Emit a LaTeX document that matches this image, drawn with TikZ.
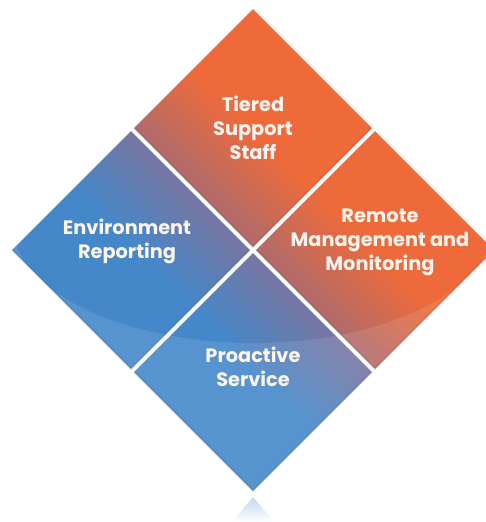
\documentclass[tikz,border=0pt]{standalone}
\usepackage{fontspec}
\newfontfamily\tilefont{Poppins}
\usetikzlibrary{shapes.geometric}

\definecolor{tileorange}{RGB}{238,106,58}
\definecolor{tileblue}{RGB}{68,136,202}
\definecolor{orangemauve}{RGB}{150,108,128}
\definecolor{bluemauve}{RGB}{140,110,145}
\definecolor{mirrorblue}{RGB}{196,214,234}
\definecolor{captiontext}{RGB}{252,244,238}

\tikzset{
  tile/.style={diamond, minimum width=4.76cm, minimum height=4.76cm,
    inner sep=0pt, outer sep=0pt},
  orangetile/.style={tile, bottom color=orangemauve, top color=tileorange,
    middle color=tileorange, shading angle=-45},
  bluetile/.style={tile, bottom color=tileblue, top color=bluemauve,
    middle color=tileblue, shading angle=-45},
  rim/.style={line width=1pt, black, opacity=0.12},
  caption/.style={align=center, text=captiontext,
    font=\tilefont\bfseries\fontsize{11}{13.6}\selectfont}
}

\begin{document}
\begin{tikzpicture}[x=0.02cm,y=-0.02cm]
\useasboundingbox (0,0) rectangle (486,522);

% the four tiles
\node[orangetile] (tiered) at (253,128) {};
\node[bluetile] (environment) at (131,250) {};
\node[orangetile] (remote) at (375,250) {};
\node[bluetile] (proactive) at (253,372) {};

\foreach \t in {tiered,environment,remote,proactive}
  \draw[rim] (\t.west) -- (\t.south) -- (\t.east);

% gloss below the arc
\begin{scope}
\clip (tiered.north) -- (remote.east) -- (proactive.south) -- (environment.west) -- cycle;
\clip (0,223) rectangle (486,522);
\fill[white, fill opacity=0.1, even odd rule] (0,0) rectangle (486,522)
  (253,223) ellipse [x radius=241, y radius=120];
\end{scope}

% reflection of the bottom tip
\coordinate (mirror) at (253,497);
\shade[top color=mirrorblue, bottom color=white] (mirror) -- ++(21,25) -- ++(-42,0) -- cycle;

\node[caption] (tieredtext) at (253,128) {Tiered\\Support\\Staff};
\node[caption] (environmenttext) at (127,241) {Environment\\Reporting};
\node[caption] (remotetext) at (380,242) {Remote\\Management and\\Monitoring};
\node[caption] (proactivetext) at (253,367) {Proactive\\Service};
\end{tikzpicture}
\end{document}
